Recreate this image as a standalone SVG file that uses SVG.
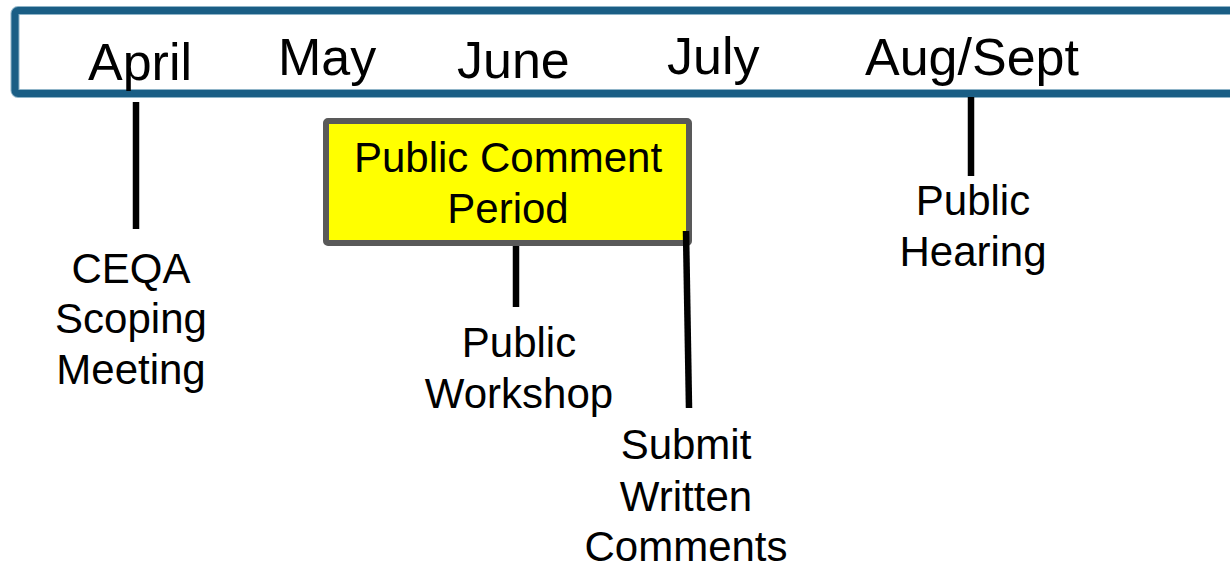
<svg xmlns="http://www.w3.org/2000/svg" width="1230" height="567" viewBox="0 0 1230 567">
  <style>
    text { font-family: "Liberation Sans", Arial, sans-serif; fill: #000; }
    .month { font-size: 52px; }
    .lbl { font-size: 42px; text-anchor: middle; }
    .tick { stroke: #000; stroke-width: 6.5; fill: none; }
  </style>
  <rect width="1230" height="567" fill="#fff"/>
  <g id="timeline">
    <rect x="15" y="10.5" width="1240" height="83" rx="3" fill="#fff" stroke="#8fb4c8" stroke-width="9"/>
    <rect x="15" y="10.5" width="1240" height="83" rx="3" fill="none" stroke="#1a5e85" stroke-width="7"/>
    <text class="month" x="88" y="80">April</text>
    <text class="month" x="278" y="75">May</text>
    <text class="month" x="457" y="78">June</text>
    <text class="month" x="667" y="74">July</text>
    <text class="month" x="865" y="75">Aug/Sept</text>
  </g>
  <g id="comment-period">
    <rect x="326" y="121" width="363" height="122" rx="2" fill="#ffff00" stroke="#595959" stroke-width="6"/>
    <text class="lbl" x="508" y="172">Public Comment</text>
    <text class="lbl" x="508" y="223">Period</text>
  </g>
  <g id="ceqa">
    <text class="lbl" x="131" y="283">CEQA</text>
    <text class="lbl" x="131" y="333">Scoping</text>
    <text class="lbl" x="131" y="384">Meeting</text>
  </g>
  <g id="workshop">
    <text class="lbl" x="519" y="357">Public</text>
    <text class="lbl" x="519" y="408">Workshop</text>
  </g>
  <g id="written">
    <text class="lbl" x="686" y="459">Submit</text>
    <text class="lbl" x="686" y="511">Written</text>
    <text class="lbl" x="686" y="561">Comments</text>
  </g>
  <g id="hearing">
    <text class="lbl" x="973" y="215">Public</text>
    <text class="lbl" x="973" y="266">Hearing</text>
  </g>
  <g id="connectors">
    <line class="tick" x1="136" y1="102" x2="136" y2="229"/>
    <line class="tick" x1="516" y1="246" x2="516" y2="307"/>
    <line class="tick" x1="686" y1="231" x2="689" y2="408"/>
    <line class="tick" x1="971" y1="97" x2="971" y2="176"/>
  </g>
</svg>
